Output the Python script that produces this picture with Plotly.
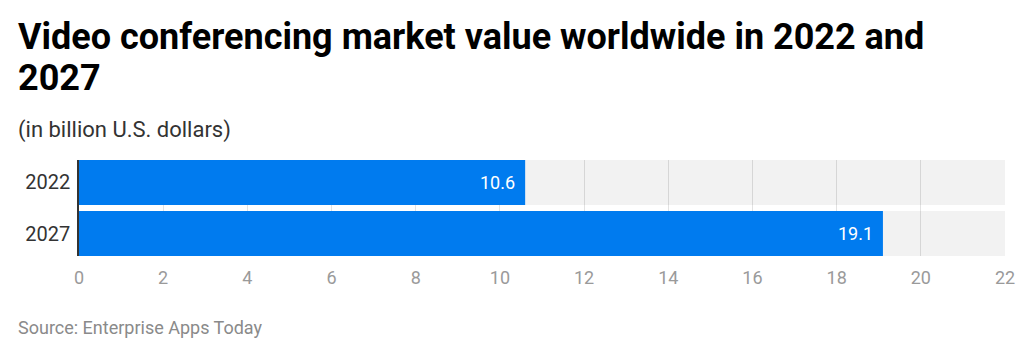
import plotly.graph_objects as go

years = ["2022", "2027"]
values = [10.6, 19.1]
labels = ["10.6", "19.1"]
tick_vals = [0, 2, 4, 6, 8, 10, 12, 14, 16, 18, 20, 22]
x_max = 22

title_line1 = "Video conferencing market value worldwide in 2022 and"
title_line2 = "2027"
subtitle_text = "(in billion U.S. dollars)"
source_text = "Source: Enterprise Apps Today"

BLUE = "#007bef"
BAND = "rgba(0,0,0,0.05)"
GRID = "#e2e2e2"
FONT = "Roboto"

# page offset caused by the default body margin of the html page
OFF = 8
W, H = 1024 - OFF, 357 - OFF
ML, MR, MT, MB = 79 - OFF, 19, 160 - OFF, 101
PW, PH = W - ML - MR, H - MT - MB
bargap = 0.12
half = (1 - bargap) / 2


def px_x(px):
    return (px - OFF - ML) / PW


def px_y(py):
    return (H - MB - (py - OFF)) / PH


fig = go.Figure()
# background bands (full-range bars per category)
fig.add_trace(go.Bar(
    y=years, x=[x_max] * len(years), orientation="h",
    marker=dict(color=BAND, line=dict(width=0)),
    hoverinfo="skip",
))
fig.add_trace(go.Bar(
    y=years, x=values, orientation="h",
    marker=dict(color=BLUE, line=dict(width=0)),
    hoverinfo="skip",
))

annotations = []
for i, (v, t) in enumerate(zip(values, labels)):
    annotations.append(dict(
        x=v, y=i, xref="x", yref="y", text=t, showarrow=False,
        xanchor="right", yanchor="middle", xshift=-8,
        font=dict(family=FONT, size=18, color="white"),
    ))

annotations.append(dict(
    xref="paper", yref="paper", x=px_x(16), y=px_y(37),
    xanchor="left", yanchor="middle", text="<b>" + title_line1 + "</b>",
    showarrow=False, font=dict(family=FONT, size=36, color="#000000"),
))
annotations.append(dict(
    xref="paper", yref="paper", x=px_x(16), y=px_y(78),
    xanchor="left", yanchor="middle", text="<b>" + title_line2 + "</b>",
    showarrow=False, font=dict(family=FONT, size=36, color="#000000"),
))
annotations.append(dict(
    xref="paper", yref="paper", x=px_x(16), y=px_y(130),
    xanchor="left", yanchor="middle", text=subtitle_text,
    showarrow=False, font=dict(family=FONT, size=22, color="#333333"),
))
annotations.append(dict(
    xref="paper", yref="paper", x=px_x(16), y=px_y(327),
    xanchor="left", yanchor="middle", text=source_text,
    showarrow=False, font=dict(family=FONT, size=18, color="#8a8a8a"),
))

fig.update_layout(
    width=W, height=H,
    margin=dict(l=ML, r=MR, t=MT, b=MB, pad=0, autoexpand=False),
    paper_bgcolor="white", plot_bgcolor="white",
    barmode="overlay",
    bargap=bargap,
    showlegend=False,
    annotations=annotations,
    xaxis=dict(
        range=[0, x_max], tickvals=tick_vals,
        showgrid=True, gridcolor=GRID, gridwidth=1,
        zeroline=False, showline=False,
        tickfont=dict(family=FONT, size=18, color="#9a9a9a"),
        ticks="", ticklabelstandoff=9,
        fixedrange=True,
    ),
    yaxis=dict(
        autorange=False, range=[len(years) - 1 + half, -half],
        type="category",
        showgrid=False, zeroline=False,
        showline=True, linecolor="#333333", linewidth=1.5,
        tickfont=dict(family=FONT, size=20, color="#333333"),
        ticks="", ticklabelstandoff=3,
        fixedrange=True,
    ),
)

fig.write_html("out.html")
